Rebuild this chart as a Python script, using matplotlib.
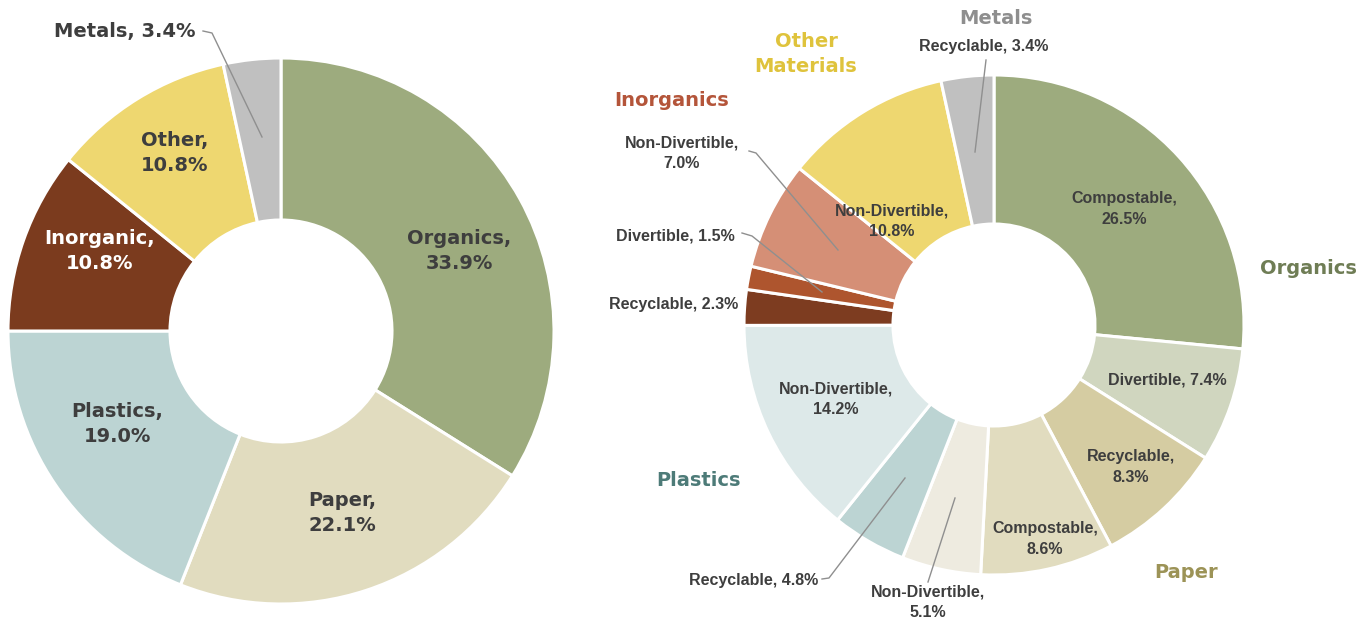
import matplotlib
matplotlib.use("Agg")
import matplotlib.pyplot as plt

W, H = 1368, 618

# ---- overall composition ----
main_names = ["Organics", "Paper", "Plastics", "Inorganic", "Other", "Metals"]
main_share = [33.9, 22.1, 19.0, 10.8, 10.8, 3.4]
main_colors = ["#9dab7e", "#e1dcbf", "#bcd4d3", "#7b3b1e", "#eed770", "#c0c0c0"]

# ---- breakdown by handling type ----
sub_groups = ["Organics", "Organics", "Paper", "Paper", "Paper", "Plastics",
              "Plastics", "Inorganics", "Inorganics", "Inorganics",
              "Other Materials", "Metals"]
sub_names = ["Compostable", "Divertible", "Recyclable", "Compostable",
             "Non-Divertible", "Recyclable", "Non-Divertible", "Recyclable",
             "Divertible", "Non-Divertible", "Non-Divertible", "Recyclable"]
sub_share = [26.5, 7.4, 8.3, 8.6, 5.1, 4.8, 14.2, 2.3, 1.5, 7.0, 10.8, 3.4]
sub_colors = ["#9dab7e", "#d0d6bf", "#d5cca2", "#e1dcbf", "#eeebe0", "#bcd4d3",
              "#dde9e9", "#7d3c20", "#ae552e", "#d58f76", "#eed770", "#c0c0c0"]

group_colors = {"Organics": "#6f7d55", "Paper": "#9c9357", "Plastics": "#4d7b78",
                "Inorganics": "#b4553a", "Other Materials": "#dfc33c",
                "Metals": "#8e8e8e"}

TXT = "#3e3e3e"
LEAD = "#8f8f8f"


def px(x, y):
    # pixel position (origin top-left) -> axes data coords
    return x, H - y


fig = plt.figure(figsize=(W / 100, H / 100), dpi=100)
ax = fig.add_axes([0, 0, 1, 1])

# ---- left donut ----
ax.pie(main_share, colors=main_colors, startangle=90, counterclock=False,
       center=px(281, 331), radius=273,
       wedgeprops=dict(width=162, edgecolor="white", linewidth=2.2))

main_pos = [(459, 251), (342, 513), (117, 424), (100, 251), (175, 153)]
for name, val, (x, y) in zip(main_names[:5], main_share[:5], main_pos):
    col = "white" if name == "Inorganic" else TXT
    ax.text(*px(x, y), f"{name},\n{val:.1f}%", ha="center", va="center",
            fontsize=14, fontweight="bold", color=col, linespacing=1.35,
            family="DejaVu Sans")

ax.text(*px(195, 32), f"{main_names[5]}, {main_share[5]:.1f}%", ha="right",
        va="center", fontsize=14, fontweight="bold", color=TXT,
        family="DejaVu Sans")
ax.plot(*zip(px(203, 31), px(212, 33), px(262, 137)), color=LEAD, lw=1)

# ---- right donut ----
ax.pie(sub_share, colors=sub_colors, startangle=90, counterclock=False,
       center=px(994, 325), radius=250,
       wedgeprops=dict(width=149, edgecolor="white", linewidth=2.2))

# label centre, alignment, two-line or not
sub_pos = [
    ((1124, 209), "center", True),
    ((1167, 380), "center", False),
    ((1131, 467), "center", True),
    ((1045, 539), "center", True),
    ((928, 602), "center", True),
    ((818, 580), "right", False),
    ((836, 399), "center", True),
    ((738, 305), "right", False),
    ((735, 236), "right", False),
    ((682, 153), "center", True),
    ((892, 221), "center", True),
    ((984, 47), "center", False),
]
for name, val, ((x, y), ha, two) in zip(sub_names, sub_share, sub_pos):
    sep = ",\n" if two else ", "
    ax.text(*px(x, y), f"{name}{sep}{val:.1f}%", ha=ha, va="center",
            fontsize=11.5, fontweight="bold", color=TXT, linespacing=1.45,
            family="Liberation Sans")

# leader lines for the thin slices
leaders = [
    [(749, 151), (756, 153), (838, 250)],
    [(742, 233), (752, 236), (822, 292)],
    [(822, 579), (829, 578), (905, 478)],
    [(928, 582), (955, 498)],
    [(986, 60), (975, 152)],
]
for pts in leaders:
    ax.plot(*zip(*[px(x, y) for x, y in pts]), color=LEAD, lw=1)

# group titles
group_pos = {"Organics": (1308, 268), "Paper": (1186, 573),
             "Plastics": (698, 480), "Inorganics": (672, 101),
             "Other Materials": (806, 54), "Metals": (996, 19)}
for g, (x, y) in group_pos.items():
    ax.text(*px(x, y), g.replace(" ", "\n"), ha="center", va="center",
            fontsize=14, fontweight="bold", color=group_colors[g],
            linespacing=1.35, family="DejaVu Sans")

ax.set_xlim(0, W)
ax.set_ylim(0, H)
ax.set_aspect("equal")
ax.axis("off")

fig.savefig("out.png", dpi=100, facecolor="white")
